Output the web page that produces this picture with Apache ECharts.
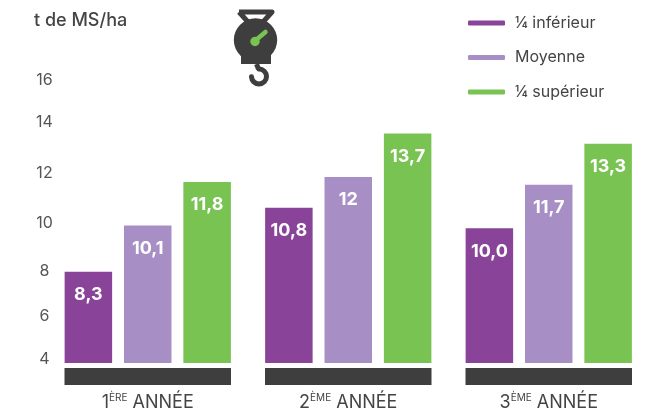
<!DOCTYPE html>
<html><head><meta charset="utf-8">
<style>html,body{margin:0;padding:0;background:#fff}#c{width:647px;height:412px}</style>
<script src="https://cdn.jsdelivr.net/npm/echarts@6/dist/echarts.min.js"></script>
</head><body><div id="c"></div>
<script>
const categories = ['1ère', '2ème', '3ème'];
const categorySup = ['ÈRE', 'ÈME', 'ÈME'];
const categoryNum = ['1', '2', '3'];
const inferieur = [8.3, 10.8, 10.0];
const moyenne = [10.1, 12, 11.7];
const superieur = [11.8, 13.7, 13.3];
const inferieurLabels = ['8,3', '10,8', '10,0'];
const moyenneLabels = ['10,1', '12', '11,7'];
const superieurLabels = ['11,8', '13,7', '13,3'];
const band = [1, 1, 1];
// the reference's printed ticks do not sit evenly on the bar scale: where each one falls
const tickPositions = [4.86, 6.57, 8.3, 10.2, 12.13, 14.13, 15.8];
const tickLabels = ['4', '6', '8', '10', '12', '14', '16'];
const FONT = 'Inter, "Noto Sans", sans-serif';
const INK = '#444444';

const chart = echarts.init(document.getElementById('c'), null, {renderer: 'canvas'});
function barSeries(name, data, labels, color) {
  return {
    name, type: 'bar', data, xAxisIndex: 0, yAxisIndex: 0,
    barWidth: 47.5, barGap: '25%',
    itemStyle: {color},
    label: {
      show: true, position: 'insideTop', distance: 14,
      color: '#fff', fontFamily: FONT, fontWeight: 700, fontSize: 18,
      formatter: p => labels[p.dataIndex]
    }
  };
}
chart.setOption({
  animation: false,
  backgroundColor: '#fff',
  title: {text: 't de MS/ha', left: 29, top: 7,
    textStyle: {color: INK, fontFamily: FONT, fontWeight: 500, fontSize: 18}},
  legend: {
    data: ['¼ inférieur', 'Moyenne', '¼ supérieur'],
    orient: 'vertical', left: 463, top: 10,
    itemWidth: 37, itemHeight: 5, itemGap: 18.5, icon: 'roundRect',
    textStyle: {color: INK, fontFamily: FONT, fontSize: 16, padding: [0, 0, 9, 5]}
  },
  grid: [
    {left: 47.5, width: 601.5, top: 60, height: 303, outerBoundsMode: 'none'},
    {left: 47.5, width: 601.5, top: 368, height: 17, outerBoundsMode: 'none'}
  ],
  xAxis: [
    {type: 'category', gridIndex: 0, data: categories, axisLine: {show: false},
      axisTick: {show: false}, axisLabel: {show: false}},
    {type: 'category', gridIndex: 1, data: categories, axisLine: {show: false},
      axisTick: {show: false},
      axisLabel: {
        interval: 0, margin: 8, color: INK, fontFamily: FONT, fontSize: 18,
        formatter: (v, i) => `{n|${categoryNum[i]}}{s|${categorySup[i]}}{n| ANNÉE}`,
        rich: {
          n: {fontFamily: FONT, fontSize: 18, color: INK, lineHeight: 20},
          s: {fontFamily: FONT, fontSize: 10, color: INK, lineHeight: 20, verticalAlign: 'top', padding: [0, 0, 6, 0]}
        }
      }}
  ],
  yAxis: [
    {type: 'value', gridIndex: 0, min: 4.73, max: 16.57, splitLine: {show: false},
      axisLine: {show: false}, axisTick: {show: false},
      axisLabel: {
        customValues: tickPositions, margin: 3, align: 'center', color: '#555555',
        fontFamily: FONT, fontSize: 16,
        formatter: v => tickLabels[tickPositions.indexOf(v)]
      }},
    {type: 'value', gridIndex: 1, min: 0, max: 1, show: false}
  ],
  series: [
    barSeries('¼ inférieur', inferieur, inferieurLabels, '#894499'),
    barSeries('Moyenne', moyenne, moyenneLabels, '#a78fc6'),
    barSeries('¼ supérieur', superieur, superieurLabels, '#79c353'),
    {name: 'socle', type: 'bar', xAxisIndex: 1, yAxisIndex: 1, data: band,
      barWidth: 166.5, itemStyle: {color: '#3e3e3e'}, silent: true}
  ],
  graphic: {elements: [
    {type: 'polyline', shape: {points: [[239, 12], [272, 12], [263, 22], [248, 22], [239, 12]]},
      style: {stroke: '#3e3e3e', lineWidth: 5, fill: 'none', lineJoin: 'round'}},
    {type: 'circle', shape: {cx: 255.5, cy: 40, r: 21.7}, style: {fill: '#3e3e3e'}},
    {type: 'rect', shape: {x: 241, y: 46, width: 30, height: 18}, style: {fill: '#3e3e3e'}},
    {type: 'line', shape: {x1: 256.5, y1: 64, x2: 258.5, y2: 69},
      style: {stroke: '#3e3e3e', lineWidth: 5}},
    {type: 'arc', shape: {cx: 259, cy: 76.5, r: 7.5, startAngle: -1.5708, endAngle: 3.1, clockwise: true},
      style: {stroke: '#3e3e3e', lineWidth: 5, fill: 'none', lineCap: 'round'}},
    {type: 'line', shape: {x1: 256, y1: 40, x2: 265.5, y2: 32},
      style: {stroke: '#79c353', lineWidth: 4.5, lineCap: 'round'}},
    {type: 'circle', shape: {cx: 255, cy: 41.5, r: 4.7}, style: {fill: '#79c353'}}
  ]}
});
</script></body></html>
